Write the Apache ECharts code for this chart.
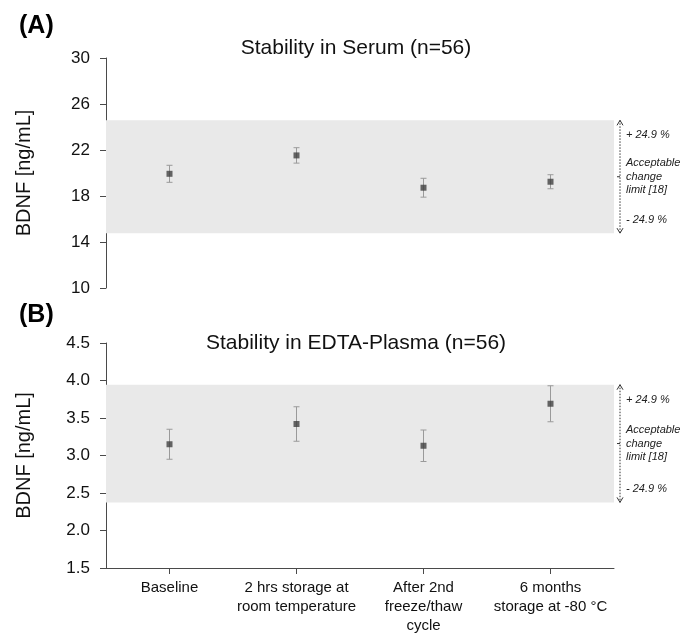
<!DOCTYPE html>
<html>
<head>
<meta charset="utf-8">
<script src="https://cdn.jsdelivr.net/npm/echarts@6/dist/echarts.min.js"></script>
<style>
  html, body { margin: 0; padding: 0; background: #fff; }
  #myechart { width: 680px; height: 637px; }
</style>
</head>
<body>
<div id="myechart"></div>
<script>
// data
var categories = ['Baseline', '2 hrs storage at\nroom temperature', 'After 2nd\nfreeze/thaw\ncycle', '6 months\nstorage at -80 °C'];
var serumMean = [19.93, 21.53, 18.72, 19.24];
var serumErr = [0.74, 0.67, 0.82, 0.61];
var plasmaMean = [3.15, 3.42, 3.13, 3.69];
var plasmaErr = [0.20, 0.23, 0.21, 0.24];
// acceptable change limit (+/- 24.9 %)
var serumBand = [14.77, 24.58];
var plasmaBand = [2.375, 3.944];
var bandLabels = ['+ 24.9 %', 'Acceptable\nchange\nlimit [18]', '- 24.9 %'];

var FONT = '"Liberation Sans", Arial, sans-serif';
var myechart = echarts.init(document.getElementById('myechart'));

function errorBars(mean, err) {
  return mean.map(function (m, i) { return [i, m - err[i], m + err[i]]; });
}

function renderErr(params, api) {
  var lo = api.coord([api.value(0), api.value(1)]);
  var hi = api.coord([api.value(0), api.value(2)]);
  var w = 3;
  var st = { stroke: '#9a9a9a', lineWidth: 1 };
  return {
    type: 'group',
    children: [
      { type: 'line', shape: { x1: lo[0], y1: lo[1], x2: hi[0], y2: hi[1] }, style: st },
      { type: 'line', shape: { x1: lo[0] - w, y1: lo[1], x2: lo[0] + w, y2: lo[1] }, style: st },
      { type: 'line', shape: { x1: hi[0] - w, y1: hi[1], x2: hi[0] + w, y2: hi[1] }, style: st }
    ]
  };
}

function renderBand(params, api) {
  var last = categories.length - 1;
  var top = api.coord([last, api.value(1)]);
  var bot = api.coord([last, api.value(0)]);
  var x = top[0] + api.size([1, 0])[0] / 2 + 6;
  var tStyle = { fill: '#222', font: 'italic 11px ' + FONT, textAlign: 'left', textVerticalAlign: 'middle' };
  var st = { stroke: '#333', lineWidth: 1, fill: null };
  var mid = (top[1] + bot[1]) / 2;
  return {
    type: 'group',
    children: [
      { type: 'line', shape: { x1: x, y1: top[1], x2: x, y2: bot[1] }, style: { stroke: '#333', lineWidth: 1, lineDash: [1.5, 1.5] } },
      { type: 'polyline', shape: { points: [[x - 3, top[1] + 5], [x, top[1]], [x + 3, top[1] + 5]] }, style: st },
      { type: 'polyline', shape: { points: [[x - 3, bot[1] - 5], [x, bot[1]], [x + 3, bot[1] - 5]] }, style: st },
      { type: 'line', shape: { x1: x - 3, y1: mid, x2: x, y2: mid }, style: st },
      { type: 'text', style: echarts.util.extend({ x: x + 6, y: top[1] + 15, text: bandLabels[0] }, tStyle) },
      { type: 'text', style: echarts.util.extend({ x: x + 6, y: mid, text: bandLabels[1], lineHeight: 13.5 }, tStyle) },
      { type: 'text', style: echarts.util.extend({ x: x + 6, y: bot[1] - 13, text: bandLabels[2] }, tStyle) }
    ]
  };
}

function yAxis(idx, min, max, interval, fmt) {
  return {
    type: 'value', gridIndex: idx, min: min, max: max, interval: interval,
    name: 'BDNF [ng/mL]', nameLocation: 'middle', nameGap: 72,
    nameTextStyle: { fontFamily: FONT, fontSize: 20, color: '#111' },
    axisLine: { show: true, lineStyle: { color: '#4a4a4a', width: 1 } },
    axisTick: { show: true, length: 6, lineStyle: { color: '#4a4a4a' } },
    axisLabel: { fontFamily: FONT, fontSize: 17, color: '#111', margin: 16, formatter: fmt },
    splitLine: { show: false }
  };
}

var option = {
  animation: false,
  backgroundColor: '#fff',
  title: [
    { text: '(A)', left: 14, top: 9, textStyle: { fontFamily: FONT, fontSize: 25, fontWeight: 'bold', color: '#000' } },
    { text: '(B)', left: 14, top: 298, textStyle: { fontFamily: FONT, fontSize: 25, fontWeight: 'bold', color: '#000' } },
    { text: 'Stability in Serum (n=56)', left: 351, textAlign: 'center', top: 33, textStyle: { fontFamily: FONT, fontSize: 21, fontWeight: 'normal', color: '#111' } },
    { text: 'Stability in EDTA-Plasma (n=56)', left: 351, textAlign: 'center', top: 328, textStyle: { fontFamily: FONT, fontSize: 21, fontWeight: 'normal', color: '#111' } }
  ],
  grid: [
    { left: 106, right: 66, top: 58, height: 230 },
    { left: 106, right: 66, top: 343, height: 225 }
  ],
  xAxis: [
    { type: 'category', gridIndex: 0, data: categories, axisLine: { show: false }, axisTick: { show: false }, axisLabel: { show: false } },
    {
      type: 'category', gridIndex: 1, data: categories,
      axisLine: { show: true, lineStyle: { color: '#4a4a4a' } },
      axisTick: { show: true, alignWithLabel: true, length: 6, lineStyle: { color: '#4a4a4a' } },
      axisLabel: { fontFamily: FONT, fontSize: 15, color: '#111', lineHeight: 19, margin: 10, interval: 0 }
    }
  ],
  yAxis: [
    yAxis(0, 10, 30, 4),
    yAxis(1, 1.5, 4.5, 0.5, function (v) { return v.toFixed(1); })
  ],
  series: [
    {
      type: 'line', xAxisIndex: 0, yAxisIndex: 0, data: [], z: 0, silent: true,
      markArea: { silent: true, itemStyle: { color: '#e9e9e9' }, data: [[{ yAxis: serumBand[0] }, { yAxis: serumBand[1] }]] }
    },
    {
      type: 'line', xAxisIndex: 1, yAxisIndex: 1, data: [], z: 0, silent: true,
      markArea: { silent: true, itemStyle: { color: '#e9e9e9' }, data: [[{ yAxis: plasmaBand[0] }, { yAxis: plasmaBand[1] }]] }
    },
    { type: 'custom', xAxisIndex: 0, yAxisIndex: 0, renderItem: renderBand, data: [serumBand], z: 1, silent: true },
    { type: 'custom', xAxisIndex: 1, yAxisIndex: 1, renderItem: renderBand, data: [plasmaBand], z: 1, silent: true },
    { type: 'custom', xAxisIndex: 0, yAxisIndex: 0, renderItem: renderErr, data: errorBars(serumMean, serumErr), z: 2, silent: true },
    { type: 'custom', xAxisIndex: 1, yAxisIndex: 1, renderItem: renderErr, data: errorBars(plasmaMean, plasmaErr), z: 2, silent: true },
    { type: 'scatter', xAxisIndex: 0, yAxisIndex: 0, data: serumMean, symbol: 'rect', symbolSize: 6, itemStyle: { color: '#404040' }, z: 3 },
    { type: 'scatter', xAxisIndex: 1, yAxisIndex: 1, data: plasmaMean, symbol: 'rect', symbolSize: 6, itemStyle: { color: '#404040' }, z: 3 }
  ]
};

myechart.setOption(option);
</script>
</body>
</html>
